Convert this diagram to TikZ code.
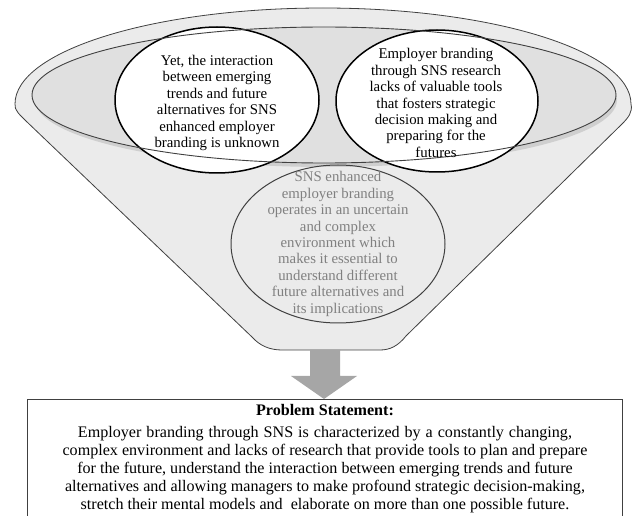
\documentclass[tikz,border=0pt]{standalone}
\usepackage{fontspec}
\setmainfont{Liberation Serif}
\usetikzlibrary{shapes.geometric}
\definecolor{funnelfill}{HTML}{EBEBEB}
\definecolor{bandfill}{HTML}{E0E0E0}
\definecolor{shadowfill}{HTML}{CFCFCF}
\definecolor{edgegray}{HTML}{404040}
\definecolor{textgray}{HTML}{808080}
\definecolor{arrowgray}{HTML}{A6A6A6}
\tikzset{
  funnel/.style={draw=edgegray, line width=0.8pt, fill=funnelfill},
  whitecircle/.style={ellipse, draw=black, line width=1.5pt, fill=white, inner sep=0pt},
  graycircle/.style={ellipse, draw=edgegray, line width=1pt, inner sep=0pt},
  circtext/.style={align=center, font=\fontsize{14.8}{16.4}\selectfont, inner sep=0pt},
  boxtext/.style={align=center, font=\fontsize{16.1}{18}\selectfont, inner sep=0pt},
}
\begin{document}
\begin{tikzpicture}[x=1pt,y=-1pt]
\useasboundingbox (0,0) rectangle (633,516);
\clip (0,0) rectangle (633,516);
% funnel body
\draw[funnel] (15,104) arc[start angle=180, end angle=360, x radius=308, y radius=96]
  .. controls (633,112) and (628,118) .. (622,124)
  -- (406,336) .. controls (398,346) and (390,350) .. (380,350)
  -- (282,350) .. controls (270,350) and (260,346) .. (252,337)
  -- (26,121) .. controls (20,115) and (14,110) .. (15,104) -- cycle;
% band shadow and band
\fill[shadowfill] (326,100) ellipse[x radius=291, y radius=67];
\fill[bandfill] (324,95) ellipse[x radius=292, y radius=68];
% circles
\node[whitecircle, minimum width=204pt, minimum height=146pt] (left) at (217,100) {};
\node[whitecircle, minimum width=202pt, minimum height=142pt] (right) at (437,101) {};
\draw[edgegray, line width=0.9pt] (324,95) ellipse[x radius=292, y radius=68];
\node[graycircle, minimum width=214pt, minimum height=158pt] (bottom) at (338,244) {};
% texts
\node[circtext] (lefttext) at (217,103) {Yet, the interaction\\between emerging\\trends and future\\alternatives for SNS\\enhanced employer\\branding is unknown};
\node[circtext] (righttext) at (436,103) {Employer branding\\through SNS research\\lacks of valuable tools\\that fosters strategic\\decision making and\\preparing for the\\futures};
\node[circtext, text=textgray] (bottomtext) at (338,244) {SNS enhanced\\employer branding\\operates in an uncertain\\and complex\\environment which\\makes it essential to\\understand different\\future alternatives and\\its implications};
% arrow
\fill[arrowgray] (310,350) -- (340,350) -- (340,376) -- (357,376) -- (324,399) -- (291,376) -- (310,376) -- cycle;
% box
\draw[edgegray, line width=0.9pt, fill=white] (27,399) rectangle (622,540);
\node[boxtext, font=\fontsize{16.1}{18}\selectfont\bfseries] (title) at (325,410) {Problem Statement:};
\node[boxtext] (body) at (325,470) {\makebox[494pt][s]{Employer branding through SNS is characterized by a constantly changing,}\\complex environment and lacks of research that provide tools to plan and prepare\\for the future, understand the interaction between emerging trends and future\\alternatives and allowing managers to make profound strategic decision-making,\\stretch their mental models and\ \ elaborate on more than one possible future.};
\end{tikzpicture}
\end{document}
